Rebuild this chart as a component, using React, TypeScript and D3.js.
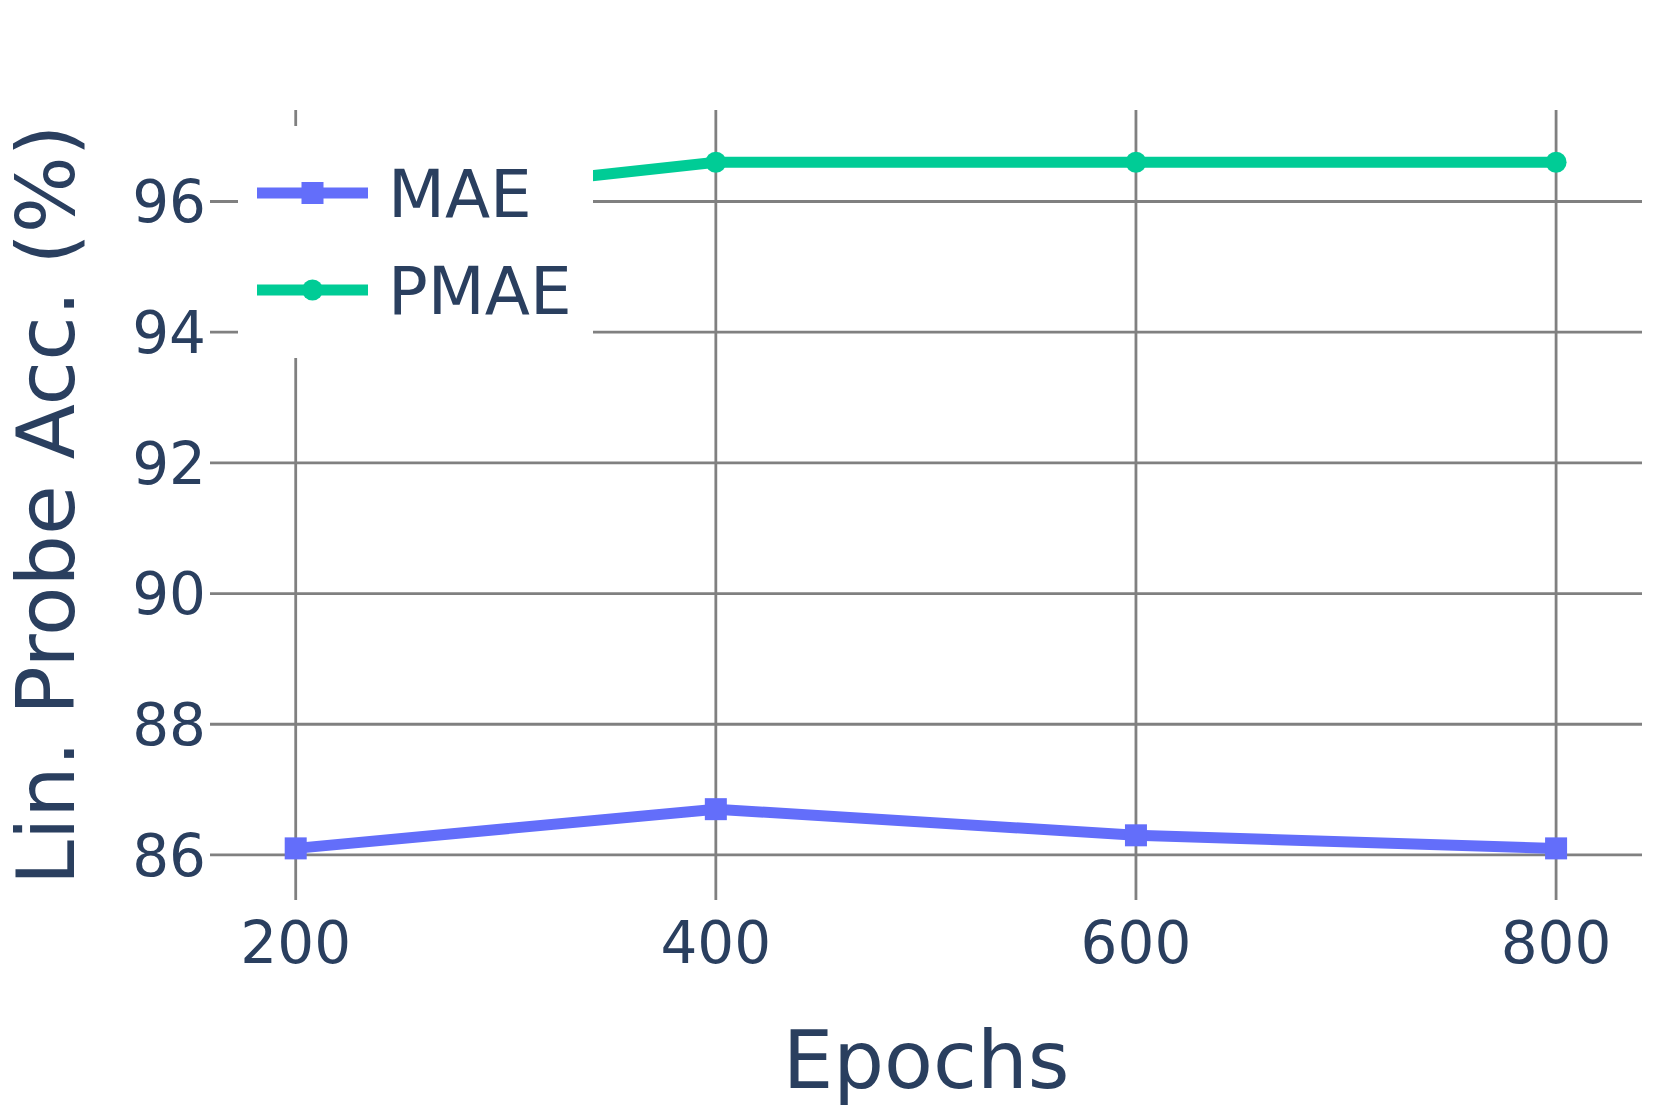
import React, { useEffect, useRef } from "react";
import * as d3 from "d3";

const width = 1661;
const height = 1107;
const margin = { top: 110, right: 19, bottom: 207, left: 210 };

const epochs = [200, 400, 600, 800];
const maeAcc = [86.1, 86.7, 86.3, 86.1];
const pmaeAcc = [95.9, 96.6, 96.6, 96.6];
const xTicks = [200, 400, 600, 800];
const yTicks = [86, 88, 90, 92, 94, 96];

const font = "'DejaVu Sans', sans-serif";
const textColor = "#2a3f5f";
const gridColor = "#808080";

const series = [
  { name: "MAE", values: maeAcc, color: "#636efa", symbol: "square" },
  { name: "PMAE", values: pmaeAcc, color: "#00cc96", symbol: "circle" },
];

export default function App() {
  const ref = useRef<SVGSVGElement>(null);

  useEffect(() => {
    const svg = d3.select(ref.current);
    svg.selectAll("*").remove();

    const x = d3
      .scaleLinear()
      .domain([159.2, 840.9])
      .range([margin.left, width - margin.right]);

    const y = d3
      .scaleLinear()
      .domain([85.31, 97.4])
      .range([height - margin.bottom, margin.top]);

    // grid
    const grid = svg.append("g").attr("stroke", gridColor).attr("stroke-width", 2.8);
    grid
      .selectAll("line.h")
      .data(yTicks)
      .join("line")
      .attr("x1", margin.left)
      .attr("x2", width - margin.right)
      .attr("y1", d => y(d))
      .attr("y2", d => y(d));
    grid
      .selectAll("line.v")
      .data(xTicks)
      .enter()
      .append("line")
      .attr("x1", d => x(d))
      .attr("x2", d => x(d))
      .attr("y1", margin.top)
      .attr("y2", height - margin.bottom);

    // tick labels
    svg
      .append("g")
      .selectAll("text")
      .data(yTicks)
      .join("text")
      .attr("x", margin.left - 4)
      .attr("y", d => y(d))
      .attr("dy", "0.36em")
      .attr("text-anchor", "end")
      .attr("font-family", font)
      .attr("font-size", 58)
      .attr("fill", textColor)
      .text(d => d);

    svg
      .append("g")
      .selectAll("text")
      .data(xTicks)
      .join("text")
      .attr("x", d => x(d))
      .attr("y", 963)
      .attr("text-anchor", "middle")
      .attr("font-family", font)
      .attr("font-size", 58)
      .attr("fill", textColor)
      .text(d => d);

    // axis titles
    svg
      .append("text")
      .attr("x", (margin.left + width - margin.right) / 2)
      .attr("y", 1088)
      .attr("text-anchor", "middle")
      .attr("font-family", font)
      .attr("font-size", 80)
      .attr("fill", textColor)
      .text("Epochs");

    svg
      .append("text")
      .attr("transform", `translate(74,${(margin.top + height - margin.bottom) / 2}) rotate(-90)`)
      .attr("text-anchor", "middle")
      .attr("font-family", font)
      .attr("font-size", 81)
      .attr("fill", textColor)
      .text("Lin. Probe Acc. (%)");

    // lines + markers
    const line = d3
      .line<number>()
      .x((d, i) => x(epochs[i]))
      .y(d => y(d));

    const drawMarker = (g, s, cx, cy) => {
      if (s.symbol === "square") {
        g.append("rect")
          .attr("x", cx - 11)
          .attr("y", cy - 11)
          .attr("width", 22)
          .attr("height", 22)
          .attr("fill", s.color);
      } else {
        g.append("circle").attr("cx", cx).attr("cy", cy).attr("r", 10.5).attr("fill", s.color);
      }
    };

    series.forEach(s => {
      const g = svg.append("g");
      g.append("path")
        .attr("d", line(s.values))
        .attr("fill", "none")
        .attr("stroke", s.color)
        .attr("stroke-width", 11);
      s.values.forEach((v, i) => drawMarker(g, s, x(epochs[i]), y(v)));
    });

    // legend
    const legend = svg.append("g");
    legend
      .append("rect")
      .attr("x", 238)
      .attr("y", 126)
      .attr("width", 355)
      .attr("height", 232)
      .attr("fill", "#fff");

    const legendY = [193, 290];
    series.forEach((s, i) => {
      const g = legend.append("g");
      g.append("line")
        .attr("x1", 257)
        .attr("x2", 368)
        .attr("y1", legendY[i])
        .attr("y2", legendY[i])
        .attr("stroke", s.color)
        .attr("stroke-width", 11);
      drawMarker(g, s, 312.5, legendY[i]);
      g.append("text")
        .attr("x", 388)
        .attr("y", legendY[i])
        .attr("dy", "0.36em")
        .attr("font-family", font)
        .attr("font-size", 66)
        .attr("fill", textColor)
        .text(s.name);
    });
  }, []);

  return (
    <div style={{ position: "absolute", left: 0, top: 0 }}>
      <svg ref={ref} width={width} height={height} style={{ display: "block", background: "#fff" }} />
    </div>
  );
}
